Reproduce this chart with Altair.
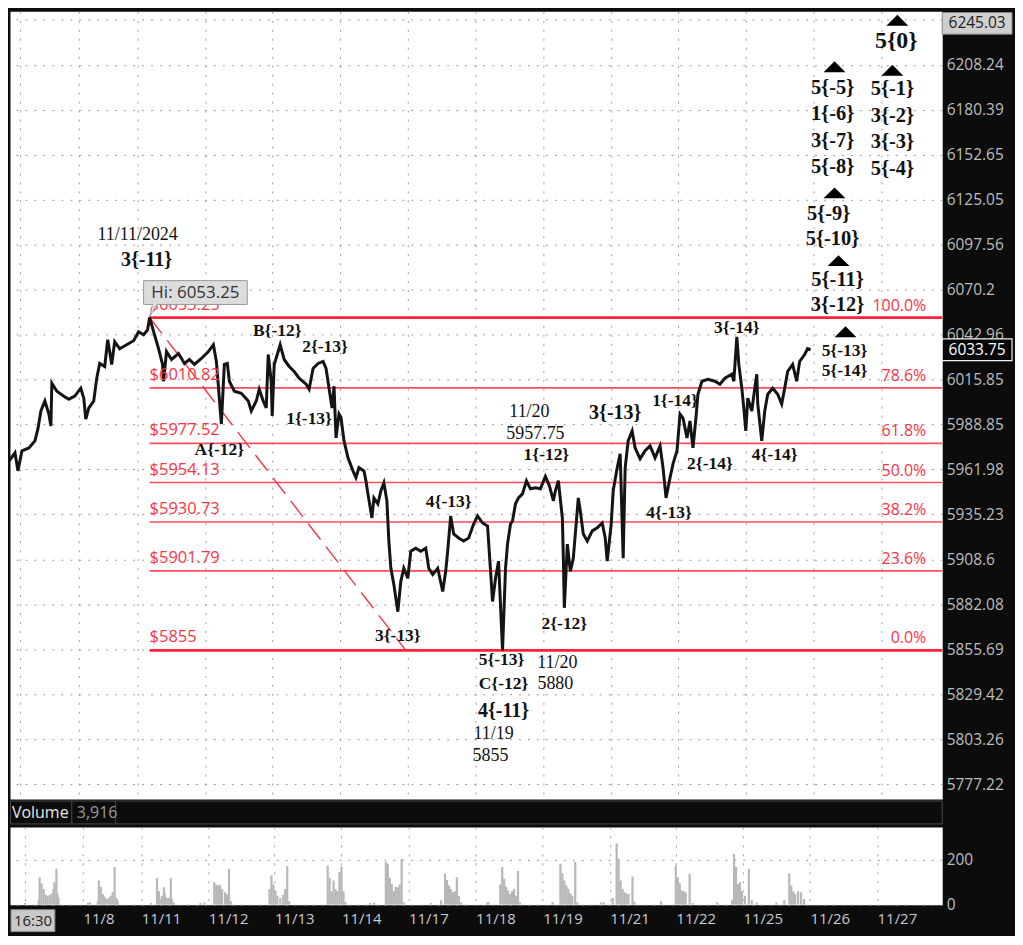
import altair as alt
import pandas as pd

# ---------------- price path (bar index, price) ----------------
BAR = [0, 5, 13, 16, 20, 27, 33, 36, 39, 43,
       47, 49, 50, 55, 62, 67, 73, 79, 82, 84,
       87, 92, 95, 98, 103, 106, 108, 110, 113, 118,
       125, 132, 137, 142, 146, 148, 153, 157, 161, 162,
       165, 170, 177, 183, 188, 193, 200, 207, 212, 215,
       217, 220, 223, 226, 228, 233, 240, 247, 250, 255,
       258, 262, 265, 267, 270, 271, 273, 277, 279, 283,
       288, 293, 298, 305, 308, 312, 317, 322, 325, 328,
       331, 333, 335, 338, 340, 343, 347, 352, 355, 358,
       363, 365, 367, 371, 373, 377, 380, 383, 386, 388,
       390, 393, 397, 400, 403, 407, 410, 415, 420, 425,
       428, 432, 437, 442, 445, 447, 450, 453, 458, 463,
       468, 473, 477, 482, 487, 490, 492, 495, 498, 502,
       505, 507, 510, 512, 515, 518, 522, 526, 530, 535,
       540, 545, 549, 553, 555, 558, 562, 563, 564, 567,
       570, 573, 578, 580, 583, 587, 592, 597, 602, 605,
       607, 611, 613, 617, 620, 623, 625, 628, 632, 635,
       640, 645, 650, 655, 660, 663, 666, 670, 673, 677,
       680, 683, 687, 690, 693, 696, 698, 702, 708, 715,
       720, 725, 732, 734, 736, 737, 739, 742, 744, 746,
       748, 752, 755, 757, 758, 762, 765, 768, 773, 778,
       782, 785, 788, 793, 797, 800, 805, 808, 811]
PRICE = [5953.9, 5965.3, 5971.9, 5961.1, 5973.1, 5974.8, 5979.0, 5986.2, 5996.9, 6002.9,
         5995.1, 5987.9, 6013.6, 6008.8, 6005.8, 6004.0, 6005.8, 6010.6, 6004.6, 5992.1,
         5998.7, 6002.9, 6016.6, 6025.5, 6023.7, 6039.8, 6032.7, 6024.9, 6038.6, 6034.4,
         6036.8, 6039.2, 6044.6, 6042.8, 6045.8, 6053.25, 6042.8, 6034.4, 6024.9, 6014.8,
         6032.7, 6027.9, 6031.5, 6025.5, 6027.9, 6024.9, 6028.5, 6032.7, 6036.8, 6026.7,
         6011.8, 5989.1, 6024.9, 6025.5, 6014.8, 6008.8, 6007.6, 6002.9, 5996.9, 6002.9,
         6010.0, 6002.9, 5998.7, 6030.9, 6014.8, 5993.9, 6024.9, 6032.7, 6036.8, 6027.9,
         6023.7, 6020.7, 6016.6, 6013.0, 6010.0, 6022.5, 6025.5, 6026.7, 6022.5, 6010.6,
         5998.7, 6011.8, 5980.8, 5995.1, 5993.0, 5979.0, 5968.9, 5961.1, 5957.0, 5963.0,
         5961.1, 5955.2, 5947.4, 5933.1, 5945.0, 5941.5, 5949.2, 5954.0, 5943.3, 5919.4,
         5903.3, 5893.8, 5877.7, 5895.6, 5903.3, 5897.4, 5913.4, 5915.2, 5913.4, 5915.2,
         5903.3, 5899.7, 5903.3, 5889.6, 5901.5, 5913.4, 5934.3, 5923.6, 5921.2, 5919.4,
         5921.2, 5929.5, 5934.3, 5930.1, 5928.3, 5901.5, 5883.7, 5897.4, 5907.5, 5855.0,
         5903.3, 5917.6, 5929.5, 5931.3, 5941.5, 5945.0, 5947.4, 5955.2, 5950.4, 5951.0,
         5950.4, 5957.75, 5952.2, 5943.3, 5949.2, 5955.2, 5933.1, 5909.3, 5880.0, 5917.6,
         5901.5, 5909.3, 5945.0, 5937.3, 5923.6, 5919.4, 5925.4, 5927.2, 5930.1, 5921.2,
         5907.5, 5929.5, 5949.2, 5962.9, 5971.3, 5909.3, 5962.9, 5979.0, 5985.0, 5974.8,
         5968.3, 5973.1, 5976.0, 5968.9, 5976.0, 5962.9, 5945.0, 5957.0, 5965.3, 5973.1,
         5995.1, 5992.7, 5980.8, 5990.9, 5974.8, 5992.7, 6007.0, 6014.8, 6015.9, 6014.8,
         6013.0, 6016.6, 6019.0, 6014.8, 6032.7, 6041.6, 6024.9, 6010.6, 5998.7, 5985.0,
         6004.6, 5996.9, 6010.6, 6019.0, 6001.1, 5979.0, 5996.9, 6007.0, 6010.6, 6007.0,
         6001.1, 6010.6, 6020.7, 6024.9, 6014.8, 6026.7, 6030.9, 6034.4, 6033.75]

# ---------------- volume (thousands) ----------------
VOL_BAR = [18, 32, 33, 35, 37, 39, 41, 43, 45, 47, 48, 50, 51, 52,
           82, 84, 92, 93, 95, 97, 99, 101, 103, 105, 107, 109, 111, 112,
           146, 152, 154, 155, 157, 159, 160, 162, 164, 166, 167, 169,
           196, 200, 210, 212, 214, 216, 218, 221, 223, 225, 227,
           266, 268, 270, 272, 274, 277, 280, 282, 284, 286,
           325, 327, 329, 331, 333, 335, 337, 339, 341, 343,
           368, 372, 384, 386, 388, 390, 392, 394, 396, 398, 400, 402,
           430, 440, 444, 446, 448, 450, 452, 454, 456, 458, 460,
           487, 488, 500, 502, 504, 506, 508, 510, 512, 514, 516, 518, 520,
           553, 561, 563, 565, 567, 569, 571, 573, 576, 578,
           602, 605, 614, 618, 620, 622, 624, 626, 628, 630, 634, 636,
           663, 678, 680, 682, 684, 686, 688, 692, 695,
           720, 735, 737, 739, 741, 743, 745, 748, 752, 755, 760,
           780, 788, 793, 795, 797, 799, 802, 805, 808]
VOL_K = [8, 20, 122, 95, 70, 45, 40, 42, 50, 70, 100, 159, 50, 33,
         8, 10, 15, 107, 80, 48, 35, 25, 30, 40, 55, 167, 30, 18,
         8, 119, 60, 25, 40, 77, 50, 30, 30, 119, 25, 10,
         8, 10, 100, 90, 85, 89, 70, 55, 45, 159, 15,
         70, 130, 90, 63, 40, 30, 45, 70, 171, 15,
         174, 120, 60, 107, 70, 60, 145, 170, 60, 12,
         8, 10, 189, 182, 120, 92, 60, 80, 77, 90, 204, 10,
         8, 20, 137, 110, 85, 70, 55, 60, 122, 40, 10,
         10, 12, 90, 167, 115, 80, 63, 48, 60, 70, 40, 149, 10,
         12, 182, 140, 107, 85, 70, 50, 40, 189, 10,
         10, 10, 30, 271, 204, 107, 70, 55, 50, 48, 125, 12,
         15, 174, 122, 95, 63, 60, 55, 137, 8,
         10, 20, 226, 167, 92, 100, 60, 40, 159, 20, 10,
         10, 20, 140, 85, 60, 48, 60, 55, 25]

# ---------------- axes ----------------
PRICE_TICKS = [6236.25, 6208.24, 6180.39, 6152.65, 6125.05, 6097.56, 6070.2, 6042.96,
               6015.85, 5988.85, 5961.98, 5935.23, 5908.6, 5882.08, 5855.69, 5829.42,
               5803.26, 5777.22]
GRID_BARS = [18, 77, 136, 204, 271, 339, 407, 475, 543, 611, 678, 746, 814, 882]
DAY_LABELS = ["", "11/8", "11/11", "11/12", "11/13", "11/14", "11/17", "11/18",
              "11/19", "11/21", "11/22", "11/25", "11/26", "11/27"]
VOL_TICKS = [0, 200]

# ---------------- fibonacci retracement ----------------
FIB_PRICE = [6053.25, 6010.82, 5977.52, 5954.13, 5930.73, 5901.79, 5855.0]
FIB_PCT = ["100.0%", "78.6%", "61.8%", "50.0%", "38.2%", "23.6%", "0.0%"]
FIB_TAG = ["$6053.25", "$6010.82", "$5977.52", "$5954.13", "$5930.73", "$5901.79", "$5855"]
FIB_FROM_BAR = 148
FIB_TO_BAR = 943
FIB_PCT_BAR = 927
SWING_BAR = [148, 405]
SWING_PRICE = [6053.25, 5855.0]

# ---------------- wave annotations ----------------
WAVE_TEXT = ["B{-12}", "2{-13}", "1{-13}", "A{-12}", "3{-13}", "4{-13}", "1{-12}", "2{-12}",
             "5{-13}", "C{-12}", "1{-14}", "2{-14}", "4{-13}", "3{-14}", "4{-14}", "5{-13}", "5{-14}"]
WAVE_BAR = [276, 324, 308, 218, 397, 448, 546, 564, 501, 503, 675, 710, 669, 737, 775, 845, 845]
WAVE_PRICE = [6045.2, 6035.6, 5992.1, 5973.7, 5863.7, 5942.7, 5970.7, 5870.2,
              5849.1, 5835.1, 6002.9, 5965.3, 5936.1, 6047.0, 5970.7, 6033.2, 6020.7]

BIG_TEXT = ["3{-11}", "4{-11}", "3{-13}"]
BIG_BAR = [145, 503, 615]
BIG_PRICE = [6088.4, 5819.4, 5995.7]

NOTE_TEXT = ["11/11/2024", "11/20", "5957.75", "11/19", "5855", "11/20", "5880"]
NOTE_BAR = [136, 529, 535, 493, 490, 557, 555]
NOTE_PRICE = [6103.6, 5996.3, 5983.2, 5806.1, 5793.4, 5847.9, 5835.1]

TARGET_TEXT = ["5{-5}", "1{-6}", "3{-7}", "5{-8}", "5{-9}", "5{-10}", "5{-11}", "3{-12}",
               "5{-1}", "3{-2}", "3{-3}", "5{-4}"]
TARGET_BAR = [833, 833, 833, 833, 829, 833, 838, 838, 893, 893, 893, 893]
TARGET_PRICE = [6193.7, 6177.7, 6161.1, 6145.1, 6116.4, 6101.2, 6076.3, 6061.1,
                6193.1, 6176.5, 6160.5, 6143.9]

TOP_TEXT = ["5{0}"]
TOP_BAR = [897]
TOP_PRICE = [6222.8]

TRI_BAR = [835, 835, 839, 898, 893, 846]
TRI_PRICE = [6207.0, 6129.2, 6087.8, 6235.9, 6204.8, 6044.6]

HI_TEXT = ["Hi: 6053.25"]
HI_BAR = [194]
HI_PRICE = [6068.4]

LAST_PRICE = [6033.75]
TOP_AXIS_TEXT = "6245.03"
VOLUME_TEXT = "Volume"
VOLUME_LAST = "3,916"
TIME_TEXT = "16:30"

# ---------------- layout ----------------
W, H, VH = 935, 790, 78
X_DOMAIN = [8, 943]
Y_DOMAIN = [5768.6, 6241.5]
RED = "#ff3344"
SERIF = "Liberation Serif"
SANS = "Open Sans"
BOX_X = W + 35

x_scale = alt.Scale(domain=X_DOMAIN, nice=False, zero=False)
y_scale = alt.Scale(type="log", domain=Y_DOMAIN, nice=False, zero=False)

x_axis_price = alt.Axis(values=GRID_BARS, labels=False, ticks=False, domain=False,
                        grid=True, title=None)
y_axis_price = alt.Axis(orient="right", values=PRICE_TICKS, labelExpr="'' + datum.value",
                        grid=True, ticks=False, domain=False, title=None,
                        labelColor="#bdbdbd", labelFont=SANS, labelFontSize=15.5,
                        labelPadding=4, labelOverlap=False, labelFlush=False)

X = alt.X("bar:Q", scale=x_scale, axis=x_axis_price)
Y = alt.Y("price:Q", scale=y_scale, axis=y_axis_price)

price_df = pd.DataFrame({"bar": BAR, "price": PRICE})
fib_df = pd.DataFrame({"bar": [FIB_FROM_BAR] * len(FIB_PRICE), "bar_end": [FIB_TO_BAR] * len(FIB_PRICE),
                       "pct_bar": [FIB_PCT_BAR] * len(FIB_PRICE),
                       "price": FIB_PRICE, "pct": FIB_PCT, "tag": FIB_TAG})
fib_df["main"] = fib_df["pct"].isin(["100.0%", "0.0%"])
swing_df = pd.DataFrame({"bar": SWING_BAR, "price": SWING_PRICE})


def txt(texts, bars, prices):
    return pd.DataFrame({"bar": bars, "price": prices, "label": texts})


price_line = alt.Chart(price_df).mark_line(color="#141414", strokeWidth=3.0, clip=True,
                                           strokeJoin="miter").encode(x=X, y=Y)

fib_thin = alt.Chart(fib_df).transform_filter("!datum.main").mark_rule(
    color="#ff4d5c", strokeWidth=1.6).encode(x=X, x2="bar_end:Q", y=Y)
fib_thick = alt.Chart(fib_df).transform_filter("datum.main").mark_rule(
    color="#ff2235", strokeWidth=2.8).encode(x=X, x2="bar_end:Q", y=Y)
fib_tag = alt.Chart(fib_df).mark_text(align="left", baseline="middle", dy=-13, color=RED,
                                      font=SANS, fontSize=16.5).encode(x=X, y=Y, text="tag:N")
fib_pct = alt.Chart(fib_df).mark_text(align="right", baseline="middle", dy=-12, color=RED,
                                      font=SANS, fontSize=16).encode(
    x=alt.X("pct_bar:Q", scale=x_scale, axis=x_axis_price), y=Y, text="pct:N")
swing = alt.Chart(swing_df).mark_line(color="#ff3344", strokeWidth=1.4,
                                      strokeDash=[20, 9]).encode(x=X, y=Y)

wave = alt.Chart(txt(WAVE_TEXT, WAVE_BAR, WAVE_PRICE)).mark_text(
    font=SERIF, fontWeight="bold", fontSize=17.5, color="#111", baseline="middle").encode(x=X, y=Y, text="label:N")
big = alt.Chart(txt(BIG_TEXT, BIG_BAR, BIG_PRICE)).mark_text(
    font=SERIF, fontWeight="bold", fontSize=20, color="#111", baseline="middle").encode(x=X, y=Y, text="label:N")
note = alt.Chart(txt(NOTE_TEXT, NOTE_BAR, NOTE_PRICE)).mark_text(
    font=SERIF, fontSize=18, color="#111", baseline="middle").encode(x=X, y=Y, text="label:N")
target = alt.Chart(txt(TARGET_TEXT, TARGET_BAR, TARGET_PRICE)).mark_text(
    font=SERIF, fontWeight="bold", fontSize=20.5, color="#111", baseline="middle").encode(x=X, y=Y, text="label:N")
top = alt.Chart(txt(TOP_TEXT, TOP_BAR, TOP_PRICE)).mark_text(
    font=SERIF, fontWeight="bold", fontSize=24, color="#111", baseline="middle").encode(x=X, y=Y, text="label:N")

TRI_SHAPE = "M-1,0.5L0,-0.5L1,0.5Z"
tri = alt.Chart(pd.DataFrame({"bar": TRI_BAR, "price": TRI_PRICE})).mark_point(
    shape=TRI_SHAPE, size=484, filled=True, color="#000", opacity=1).encode(x=X, y=Y)

HI_SHAPE = "M-1,-0.23L1,-0.23L1,0.23L-0.74,0.23L-0.885,0.47L-0.83,0.23L-1,0.23Z"
hi_df = txt(HI_TEXT, HI_BAR, HI_PRICE)
hi_box = alt.Chart(hi_df).mark_point(shape=HI_SHAPE, size=10816, filled=True, fill="#dcdcdc",
                                     stroke="#9a9a9a", strokeWidth=1, opacity=1).encode(x=X, y=Y)
hi_txt = alt.Chart(hi_df).mark_text(font=SANS, fontSize=17, color="#333", baseline="middle").encode(
    x=X, y=Y, text="label:N")

AX_SHAPE = "M-1,-0.31L1,-0.31L1,0.31L-1,0.31Z"
last_df = pd.DataFrame({"price": LAST_PRICE, "label": [f"{v:.2f}" for v in LAST_PRICE]})
last_box = alt.Chart(last_df).mark_point(shape=AX_SHAPE, size=4900, filled=True, fill="#050505",
                                         stroke="#f0f0f0", strokeWidth=1.2, opacity=1).encode(
    x=alt.value(BOX_X), y=Y)
last_txt = alt.Chart(last_df).mark_text(font=SANS, fontSize=15.5, color="#ffffff", baseline="middle").encode(
    x=alt.value(BOX_X), y=Y, text="label:N")
one = pd.DataFrame({"k": [0]})
top_box = alt.Chart(one).mark_point(shape=AX_SHAPE, size=4900, filled=True, fill="#cfcfcf",
                                    stroke="#8a8a8a", strokeWidth=1, opacity=1).encode(
    x=alt.value(BOX_X), y=alt.value(12))
top_txt = alt.Chart(one).mark_text(font=SANS, fontSize=15.5, color="#222", baseline="middle").encode(
    x=alt.value(BOX_X), y=alt.value(12), text=alt.value(TOP_AXIS_TEXT))

price_chart = alt.layer(
    fib_thin, fib_thick, swing, price_line, fib_tag, fib_pct,
    wave, big, note, target, top, tri, hi_box, hi_txt,
    last_box, last_txt, top_box, top_txt
).properties(width=W, height=H)

# ---------------- volume panel ----------------
label_expr = " : ".join(f"datum.value == {b} ? '{l}'" for b, l in zip(GRID_BARS, DAY_LABELS)) + " : ''"
x_axis_vol = alt.Axis(values=GRID_BARS, labelExpr=label_expr, labelAlign="left", labelBaseline="top",
                      labelColor="#c6cad2", labelFont=SANS, labelFontSize=15, labelPadding=7,
                      ticks=False, domain=False, grid=True, title=None, labelOverlap=False,
                      labelFlush=False, labelBound=False)
vol_df = pd.DataFrame({"bar": VOL_BAR, "vol": VOL_K})
vol_bars = alt.Chart(vol_df).mark_bar(color="#b7b7b7", size=2.2, clip=True).encode(
    x=alt.X("bar:Q", scale=x_scale, axis=x_axis_vol),
    y=alt.Y("vol:Q", scale=alt.Scale(domain=[0, 345], nice=False),
            axis=alt.Axis(orient="right", values=VOL_TICKS, grid=True, ticks=False, domain=False,
                          title=None, labelColor="#bdbdbd", labelFont=SANS, labelFontSize=15.5,
                          labelPadding=4, labelOverlap=False)))

band = alt.Chart(one).mark_rect(fill="#0c0c0c", stroke="#4a4a4a", strokeWidth=1).encode(
    x=alt.value(0.5), x2=alt.value(W), y=alt.value(-26), y2=alt.value(-3))
sep = alt.Chart(pd.DataFrame({"k": [0, 1]})).mark_rule(color="#4a4a4a", strokeWidth=1).encode(
    x=alt.X("k:Q", scale=alt.Scale(domain=[0, 1], range=[62, 106]), axis=None),
    y=alt.value(-26), y2=alt.value(-3))
vol_name = alt.Chart(one).mark_text(font=SANS, fontSize=16, color="#e6e6e6", align="left",
                                    baseline="middle").encode(
    x=alt.value(2), y=alt.value(-14), text=alt.value(VOLUME_TEXT))
vol_last = alt.Chart(one).mark_text(font=SANS, fontSize=16, color="#9a9a9a", align="left",
                                    baseline="middle").encode(
    x=alt.value(67), y=alt.value(-14), text=alt.value(VOLUME_LAST))
TIME_SHAPE = "M-1,-0.5L1,-0.5L1,0.5L-1,0.5Z"
time_box = alt.Chart(one).mark_point(shape=TIME_SHAPE, size=1936, filled=True, fill="#c9c9c9",
                                     stroke="#8a8a8a", strokeWidth=1, opacity=1).encode(
    x=alt.value(23), y=alt.value(VH + 16))
time_txt = alt.Chart(one).mark_text(font=SANS, fontSize=15, color="#222", baseline="middle").encode(
    x=alt.value(23), y=alt.value(VH + 16), text=alt.value(TIME_TEXT))

vol_chart = alt.layer(vol_bars, band, sep, vol_name, vol_last, time_box, time_txt).resolve_scale(
    x="independent").properties(width=W, height=VH)

chart = alt.vconcat(price_chart, vol_chart, spacing=28, bounds="flush").properties(
    background="#0c0c0c", padding=0
).configure_view(fill="white", stroke="transparent").configure_axis(
    gridColor="#9c9c9c", gridDash=[2, 7], gridWidth=1, gridOpacity=1
)

chart.save("out.html", embed_options={"renderer": "svg", "actions": False})
